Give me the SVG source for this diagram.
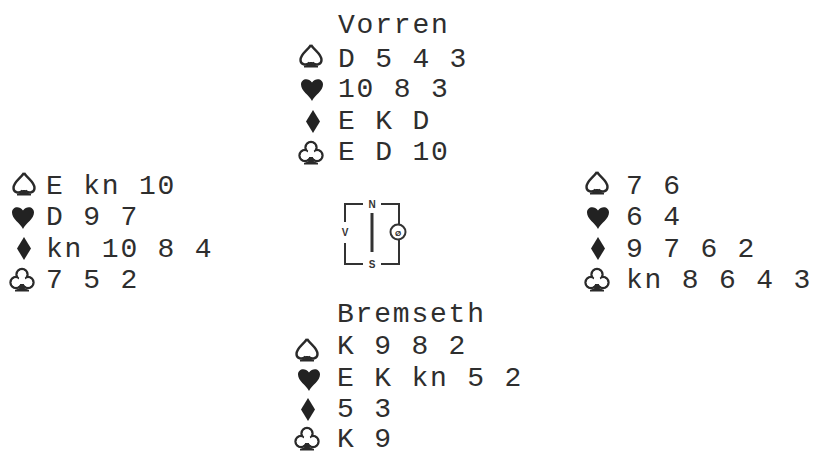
<svg xmlns="http://www.w3.org/2000/svg" width="817" height="451" viewBox="0 0 817 451">
<style>
.t{font-family:"Liberation Mono","DejaVu Sans Mono",monospace;font-size:28px;letter-spacing:1.8px;fill:#2e2e2e}
.c{font-family:"Liberation Sans",Arial,sans-serif;font-size:10px;font-weight:bold;fill:#333;text-anchor:middle}
.ln{stroke:#333;stroke-width:2;fill:none}
</style>
<defs>
<g id="sp">
<path d="M0,-21 C-4,-15 -10.5,-12 -10.5,-6 C-10.5,-1.5 -5,0 -1.5,-3.5 M1.5,-3.5 C5,0 10.5,-1.5 10.5,-6 C10.5,-12 4,-15 0,-21" fill="none" stroke="#2a2a2a" stroke-width="2.4" stroke-linejoin="round"/>
<path d="M-1.5,-4 L1.5,-4 L3,-1.5 L7,0 L7,1.5 L-7,1.5 L-7,0 L-3,-1.5 Z" fill="#2a2a2a"/>
</g>
<g id="ht">
<path d="M0,1 C-3,-5 -11,-9 -11,-15.5 C-11,-21 -4,-23 0,-17.5 C4,-23 11,-21 11,-15.5 C11,-9 3,-5 0,1 Z" fill="#222"/>
</g>
<g id="di">
<path d="M0,-22 L7,-10.5 L0,1 L-7,-10.5 Z" fill="#222"/>
</g>
<g id="cl">
<g fill="none" stroke="#2a2a2a" stroke-width="2.4">
<circle cx="0" cy="-15.5" r="5.5"/><circle cx="-6" cy="-7.5" r="5.5"/><circle cx="6" cy="-7.5" r="5.5"/>
</g>
<g fill="#fff">
<circle cx="0" cy="-15.5" r="4.3"/><circle cx="-6" cy="-7.5" r="4.3"/><circle cx="6" cy="-7.5" r="4.3"/>
<rect x="-3" y="-12" width="6" height="6"/>
</g>
<path d="M-1.5,-5 L1.5,-5 L3,-1.5 L7,0 L7,1.5 L-7,1.5 L-7,0 L-3,-1.5 Z" fill="#2a2a2a"/>
</g>
</defs>
<rect width="817" height="451" fill="#fff"/>
<g id="north">
<text class="t" x="338" y="33">Vorren</text>
<use href="#sp" x="311" y="66"/><text class="t" x="338" y="67">D 5 4 3</text>
<use href="#ht" x="312" y="100"/><text class="t" x="338" y="97">10 8 3</text>
<use href="#di" x="313" y="132"/><text class="t" x="338" y="129">E K D</text>
<use href="#cl" x="311" y="163"/><text class="t" x="338" y="160">E D 10</text>
</g>
<g id="west">
<use href="#sp" x="24" y="194"/><text class="t" x="46" y="194">E kn 10</text>
<use href="#ht" x="23" y="228"/><text class="t" x="46" y="225">D 9 7</text>
<use href="#di" x="24" y="259"/><text class="t" x="46" y="257">kn 10 8 4</text>
<use href="#cl" x="22" y="290"/><text class="t" x="46" y="288">7 5 2</text>
</g>
<g id="east">
<use href="#sp" x="597" y="193"/><text class="t" x="626" y="194">7 6</text>
<use href="#ht" x="598" y="228"/><text class="t" x="626" y="225">6 4</text>
<use href="#di" x="598" y="259"/><text class="t" x="626" y="257">9 7 6 2</text>
<use href="#cl" x="597" y="290"/><text class="t" x="626" y="288">kn 8 6 4 3</text>
</g>
<g id="south">
<text class="t" x="337" y="322">Bremseth</text>
<use href="#sp" x="307" y="360"/><text class="t" x="337" y="354">K 9 8 2</text>
<use href="#ht" x="309" y="390"/><text class="t" x="337" y="386">E K kn 5 2</text>
<use href="#di" x="308" y="420"/><text class="t" x="337" y="417">5 3</text>
<use href="#cl" x="307" y="449"/><text class="t" x="337" y="447">K 9</text>
</g>
<g id="compass">
<path class="ln" d="M363 204H345V222M345 243V264H363M381 264H399V240M399 224V204H381"/>
<line x1="372" y1="213" x2="372" y2="252" stroke="#333" stroke-width="3"/>
<circle cx="398" cy="232" r="7.5" class="ln"/>
<text class="c" x="372" y="208">N</text>
<text class="c" x="372" y="268">S</text>
<text class="c" x="345" y="236">V</text>
<text class="c" x="398" y="235.5" style="font-size:8px">Ø</text>
</g>
</svg>
